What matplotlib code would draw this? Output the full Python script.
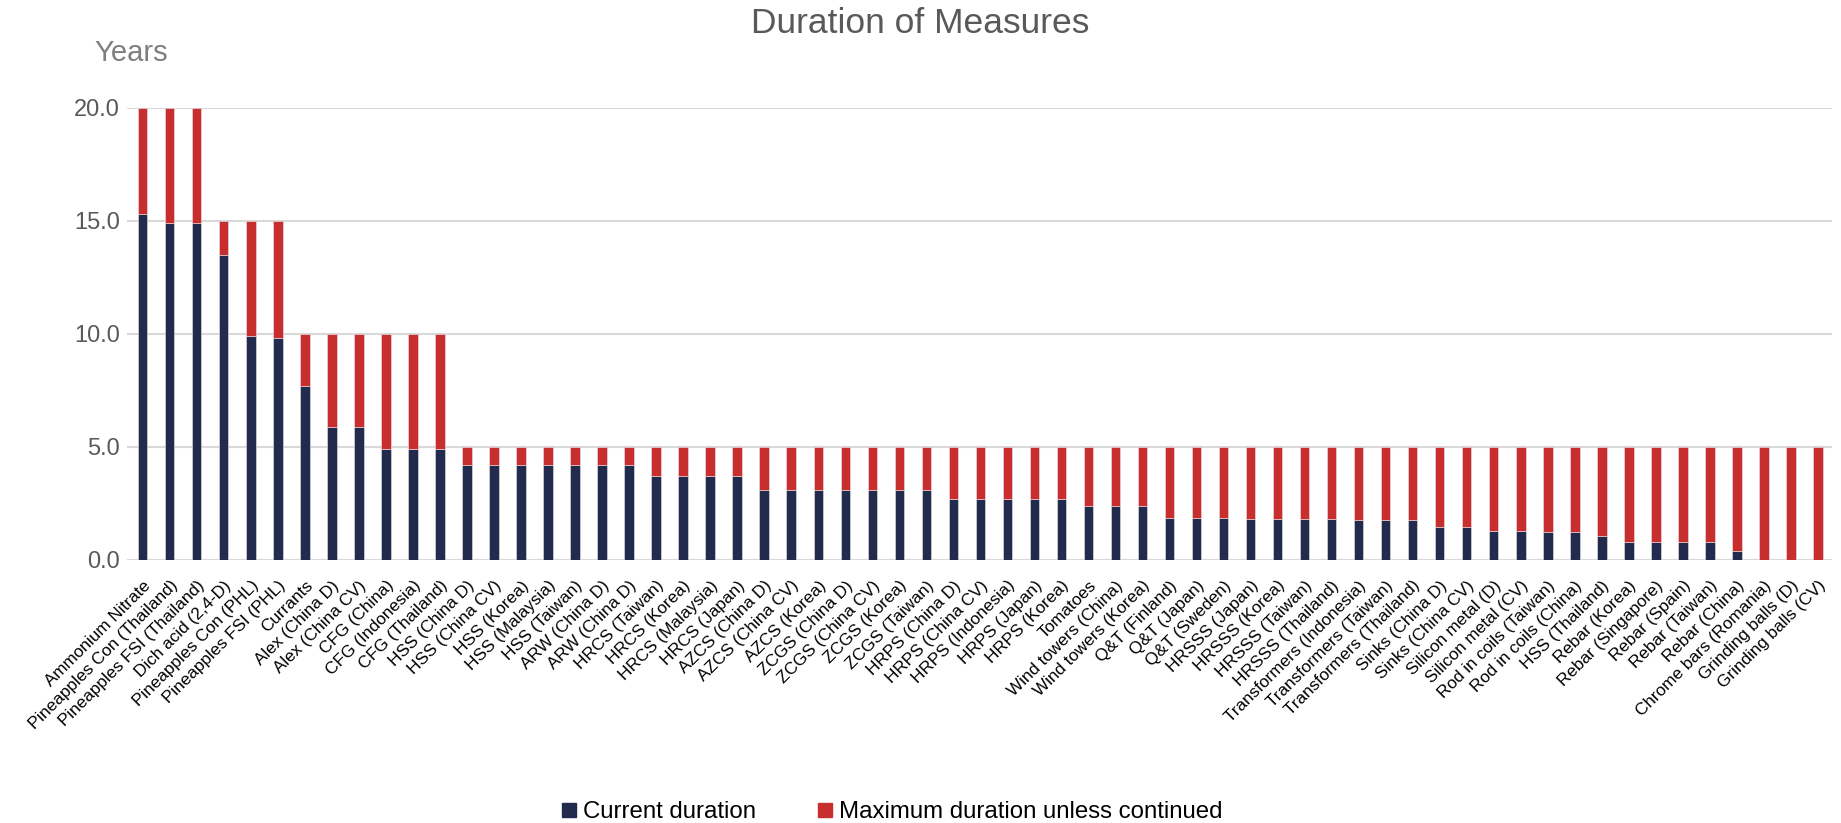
import matplotlib
matplotlib.use('Agg')
import matplotlib.pyplot as plt
from matplotlib.patches import Patch

plt.rcParams['font.family'] = ['Liberation Sans', 'DejaVu Sans']

categories = [
    'Ammonium Nitrate', 'Pineapples Con (Thailand)', 'Pineapples FSI (Thailand)',
    'Dich acid (2,4-D)', 'Pineapples Con (PHL)', 'Pineapples FSI (PHL)', 'Currants',
    'Alex (China D)', 'Alex (China CV)', 'CFG (China)', 'CFG (Indonesia)', 'CFG (Thailand)',
    'HSS (China D)', 'HSS (China CV)', 'HSS (Korea)', 'HSS (Malaysia)', 'HSS (Taiwan)',
    'ARW (China D)', 'ARW (China D)', 'HRCS (Taiwan)', 'HRCS (Korea)', 'HRCS (Malaysia)',
    'HRCS (Japan)', 'AZCS (China D)', 'AZCS (China CV)', 'AZCS (Korea)', 'ZCGS (China D)',
    'ZCGS (China CV)', 'ZCGS (Korea)', 'ZCGS (Taiwan)', 'HRPS (China D)', 'HRPS (China CV)',
    'HRPS (Indonesia)', 'HRPS (Japan)', 'HRPS (Korea)', 'Tomatoes', 'Wind towers (China)',
    'Wind towers (Korea)', 'Q&T (Finland)', 'Q&T (Japan)', 'Q&T (Sweden)', 'HRSSS (Japan)',
    'HRSSS (Korea)', 'HRSSS (Taiwan)', 'HRSSS (Thailand)', 'Transformers (Indonesia)',
    'Transformers (Taiwan)', 'Transformers (Thailand)', 'Sinks (China D)', 'Sinks (China CV)',
    'Silicon metal (D)', 'Silicon metal (CV)', 'Rod in coils (Taiwan)', 'Rod in coils (China)',
    'HSS (Thailand)', 'Rebar (Korea)', 'Rebar (Singapore)', 'Rebar (Spain)', 'Rebar (Taiwan)',
    'Rebar (China)', 'Chrome bars (Romania)', 'Grinding balls (D)', 'Grinding balls (CV)',
]

current = [
    15.3, 14.9, 14.9, 13.5, 9.9, 9.8, 7.7, 5.9, 5.9, 4.9, 4.9, 4.9,
    4.2, 4.2, 4.2, 4.2, 4.2, 4.2, 4.2, 3.7, 3.7, 3.7, 3.7,
    3.1, 3.1, 3.1, 3.1, 3.1, 3.1, 3.1, 2.7, 2.7, 2.7, 2.7, 2.7,
    2.4, 2.4, 2.4, 1.85, 1.85, 1.85, 1.8, 1.8, 1.8, 1.8, 1.75, 1.75, 1.75,
    1.45, 1.45, 1.27, 1.27, 1.23, 1.23, 1.05, 0.78, 0.78, 0.78, 0.78, 0.41,
    0.0, 0.0, 0.0,
]

maximum = [20, 20, 20, 15, 15, 15, 10, 10, 10, 10, 10, 10] + [5] * 51

yticks = [0, 5, 10, 15, 20]

navy = '#222A4E'
red = '#C82E2E'

fig = plt.figure(figsize=(18.41, 8.23), dpi=100)
ax = fig.add_axes([0.069, 0.3196, 0.926, 0.5492])

x = list(range(len(categories)))
remaining = [m - c for m, c in zip(maximum, current)]
ax.bar(x, current, width=0.35, color=navy, edgecolor='#e6e6e6', linewidth=0.4, zorder=3)
ax.bar(x, remaining, width=0.35, bottom=current, color=red, edgecolor='#e6e6e6', linewidth=0.4, zorder=3)

ax.set_xlim(-0.58, len(categories) - 0.49)
ax.set_ylim(0, 20)
ax.set_yticks(yticks)
ax.set_yticklabels(['%.1f' % v for v in yticks], fontsize=17, color='#595959')
ax.yaxis.grid(True, color='#d9d9d9', linewidth=1.5, zorder=0)
ax.set_axisbelow(True)
for s in ax.spines.values():
    s.set_visible(False)
ax.tick_params(axis='both', length=0)
ax.tick_params(axis='y', pad=5)

ax.set_xticks(x)
ax.set_xticklabels(categories, rotation=45, ha='right', rotation_mode='anchor',
                   fontsize=12.3, color='black')
ax.tick_params(axis='x', pad=13)

fig.text(0.5, 0.971, 'Duration of Measures', ha='center', va='center',
         fontsize=25.5, color='#595959')
fig.text(0.051, 0.935, 'Years', ha='left', va='center', fontsize=21, color='#7f7f7f')

handles = [Patch(color=navy, label='Current duration'),
           Patch(color=red, label='Maximum duration unless continued')]
fig.legend(handles=handles, loc='center', bbox_to_anchor=(0.4847, 0.013), ncol=2,
           frameon=False, fontsize=17.3, handlelength=0.55, handleheight=0.55,
           handletextpad=0.3, columnspacing=2.6)

fig.savefig('out.png', dpi=100)
